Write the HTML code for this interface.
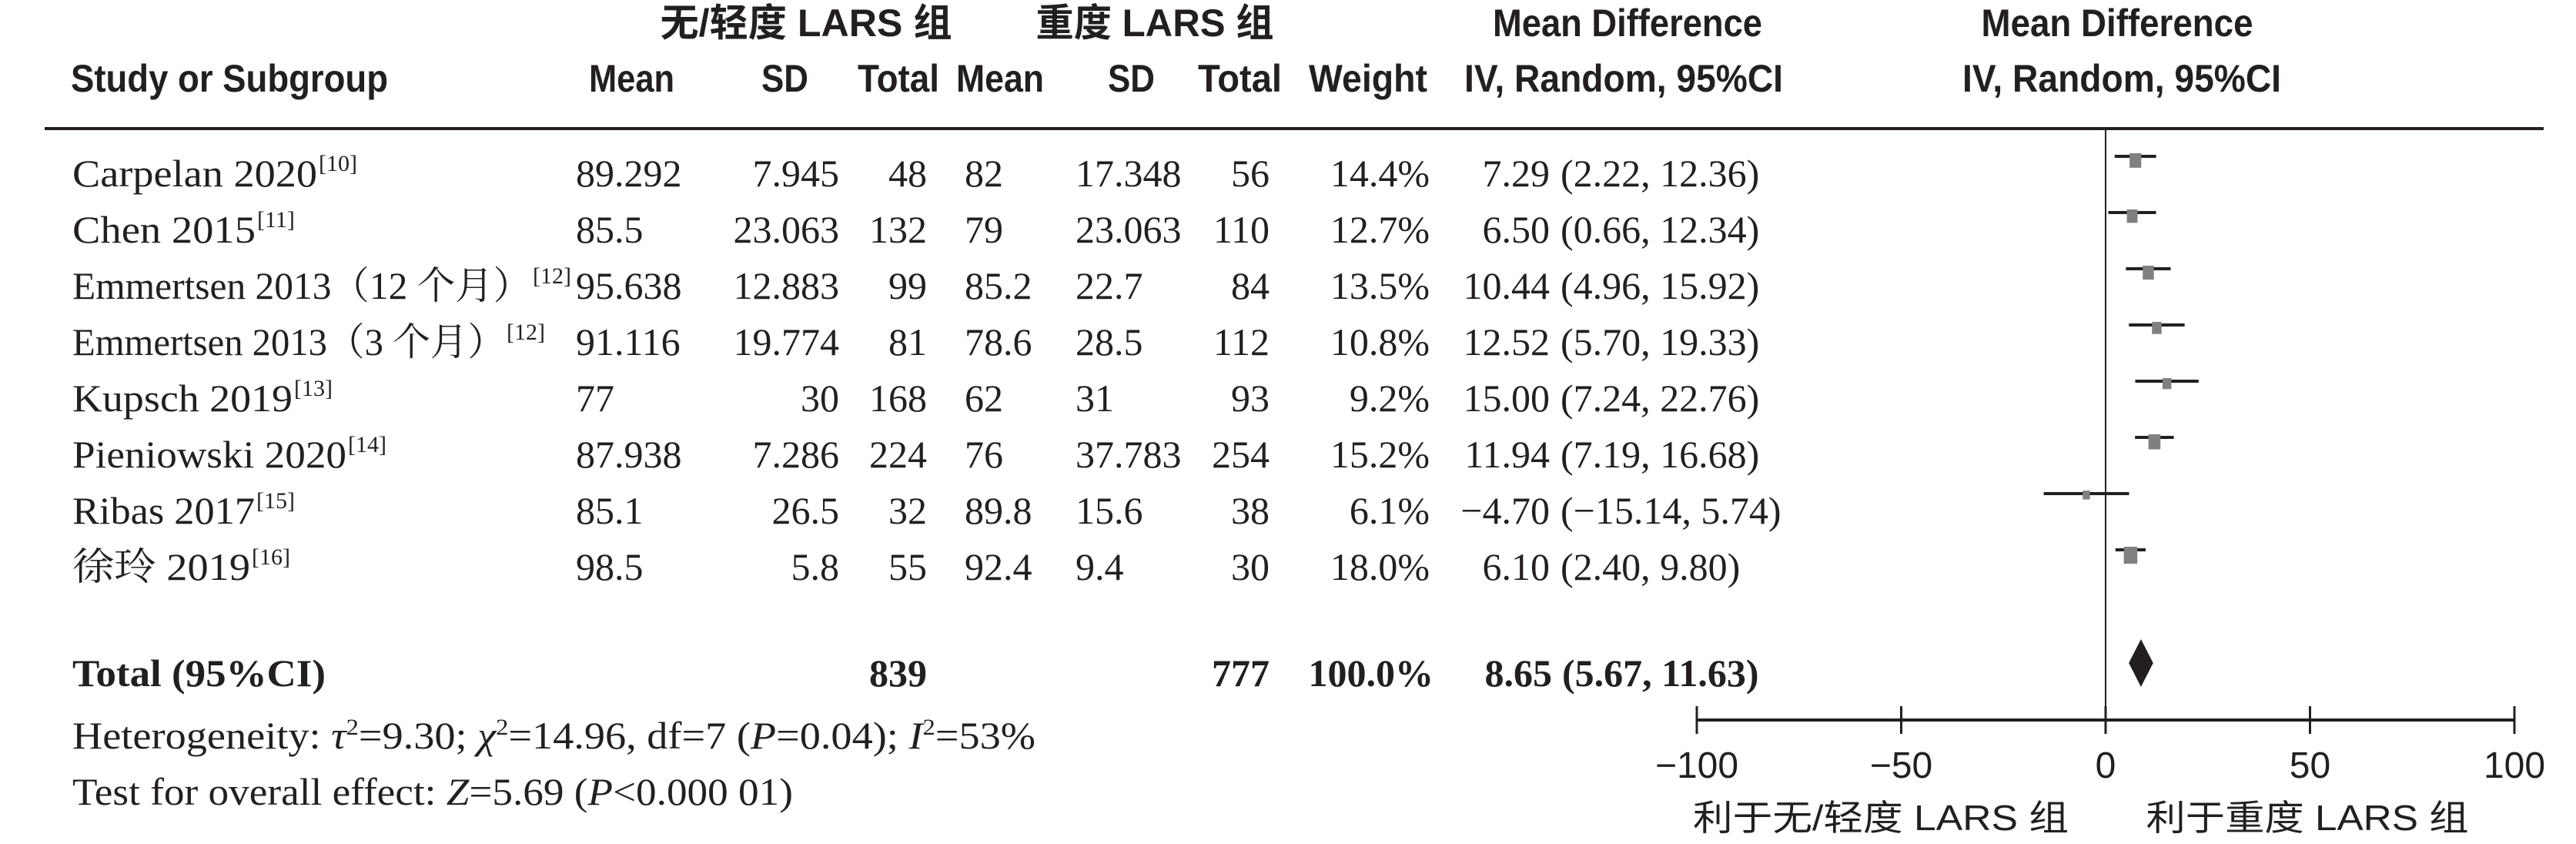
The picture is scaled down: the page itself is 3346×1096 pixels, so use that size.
<!DOCTYPE html>
<html><head><meta charset="utf-8"><style>
html,body{margin:0;padding:0;background:#fff;}
svg{display:block;}
.h{font-family:"Liberation Sans Narrow","Liberation Sans","Noto Sans CJK SC",sans-serif;font-weight:bold;font-size:50px;fill:#231f20;}
.t{font-family:"Liberation Serif","Noto Serif CJK SC",serif;font-size:50px;fill:#231f20;}
.sup{font-size:30px;}
.ax{font-family:"Liberation Sans Narrow","Liberation Sans",sans-serif;font-size:48px;fill:#231f20;}
.cj{font-family:"Liberation Sans","Noto Sans CJK SC",sans-serif;font-size:46px;fill:#231f20;}
</style></head><body>
<svg id="chart" width="3346" height="1096" viewBox="0 0 3346 1096" xmlns="http://www.w3.org/2000/svg">
<g>
<text class="h" x="1047" y="47" text-anchor="middle" textLength="379" lengthAdjust="spacingAndGlyphs">无/轻度 LARS 组</text>
<text class="h" x="1500" y="47" text-anchor="middle" textLength="309" lengthAdjust="spacingAndGlyphs">重度 LARS 组</text>
<text class="h" x="2114" y="47" text-anchor="middle" textLength="350" lengthAdjust="spacingAndGlyphs">Mean Difference</text>
<text class="h" x="2750" y="47" text-anchor="middle" textLength="353" lengthAdjust="spacingAndGlyphs">Mean Difference</text>
<text class="h" x="92" y="119" textLength="412" lengthAdjust="spacingAndGlyphs">Study or Subgroup</text>
<text class="h" x="765" y="119" textLength="111" lengthAdjust="spacingAndGlyphs">Mean</text>
<text class="h" x="989" y="119" textLength="61" lengthAdjust="spacingAndGlyphs">SD</text>
<text class="h" x="1114" y="119" textLength="106" lengthAdjust="spacingAndGlyphs">Total</text>
<text class="h" x="1242" y="119" textLength="114" lengthAdjust="spacingAndGlyphs">Mean</text>
<text class="h" x="1439" y="119" textLength="61" lengthAdjust="spacingAndGlyphs">SD</text>
<text class="h" x="1556" y="119" textLength="109" lengthAdjust="spacingAndGlyphs">Total</text>
<text class="h" x="1700" y="119" textLength="154" lengthAdjust="spacingAndGlyphs">Weight</text>
<text class="h" x="1902" y="119" textLength="414" lengthAdjust="spacingAndGlyphs">IV, Random, 95%CI</text>
<text class="h" x="2549" y="119" textLength="414" lengthAdjust="spacingAndGlyphs">IV, Random, 95%CI</text>
</g>
<rect x="58" y="165" width="3246" height="4" fill="#231f20"/>
<g id="rows"></g>
<g id="plot"></g>
<g>
<text class="t" x="94" y="891" font-weight="bold" textLength="329" lengthAdjust="spacingAndGlyphs">Total (95%CI)</text>
<text class="t" id="tot1" x="1204" y="891" font-weight="bold" text-anchor="end">839</text>
<text class="t" id="tot2" x="1649" y="891" font-weight="bold" text-anchor="end">777</text>
<text class="t" x="1862" y="891" font-weight="bold" text-anchor="end">100.0%</text>
<text class="t" x="2016" y="891" font-weight="bold" text-anchor="end">8.65</text>
<text class="t" x="2029" y="891" font-weight="bold">(5.67, 11.63)</text>
</g>
<text class="t" x="94" y="972" textLength="1251" lengthAdjust="spacingAndGlyphs">Heterogeneity: <tspan font-style="italic">τ</tspan><tspan class="sup" dy="-18">2</tspan><tspan dy="18">=9.30; </tspan><tspan font-style="italic">χ</tspan><tspan class="sup" dy="-18">2</tspan><tspan dy="18">=14.96, df=7 (</tspan><tspan font-style="italic">P</tspan>=0.04); <tspan font-style="italic">I</tspan><tspan class="sup" dy="-18">2</tspan><tspan dy="18">=53%</tspan></text>
<text class="t" x="94" y="1045" textLength="936" lengthAdjust="spacingAndGlyphs">Test for overall effect: <tspan font-style="italic">Z</tspan>=5.69 (<tspan font-style="italic">P</tspan>&lt;0.000 01)</text>
<text class="cj" x="2443" y="1078" text-anchor="middle" textLength="488" lengthAdjust="spacingAndGlyphs">利于无/轻度 LARS 组</text>
<text class="cj" x="2997" y="1078" text-anchor="middle" textLength="419" lengthAdjust="spacingAndGlyphs">利于重度 LARS 组</text>
</svg>
<script>
const studies = ["Carpelan 2020","Chen 2015","Emmertsen 2013（12 个月）","Emmertsen 2013（3 个月）","Kupsch 2019","Pieniowski 2020","Ribas 2017","徐玲 2019"];
const refs = ["[10]","[11]","[12]","[12]","[13]","[14]","[15]","[16]"];
const mean1 = ["89.292","85.5","95.638","91.116","77","87.938","85.1","98.5"];
const sd1 = ["7.945","23.063","12.883","19.774","30","7.286","26.5","5.8"];
const n1 = ["48","132","99","81","168","224","32","55"];
const mean2 = ["82","79","85.2","78.6","62","76","89.8","92.4"];
const sd2 = ["17.348","23.063","22.7","28.5","31","37.783","15.6","9.4"];
const n2 = ["56","110","84","112","93","254","38","30"];
const weights = [14.4,12.7,13.5,10.8,9.2,15.2,6.1,18.0];
const md = [7.29,6.50,10.44,12.52,15.00,11.94,-4.70,6.10];
const ciLow = [2.22,0.66,4.96,5.70,7.24,7.19,-15.14,2.40];
const ciHigh = [12.36,12.34,15.92,19.33,22.76,16.68,5.74,9.80];
const pooled = [8.65,5.67,11.63];
const ticks = [-100,-50,0,50,100];

const NS = "http://www.w3.org/2000/svg";
const X0 = 2735, PX = 5.31;
function xs(v){ return X0 + v*PX; }
function rowY(i){ return 242 + 73*i; }
function fmt(v){ return (v<0?"−":"") + Math.abs(v).toFixed(2); }
function mk(tag, attrs, parent){ const e=document.createElementNS(NS,tag); for(const k in attrs) e.setAttribute(k,attrs[k]); parent.appendChild(e); return e; }
const nameW = [318,238,596,562,286,356,237,231];
const rows = document.getElementById("rows");
const plot = document.getElementById("plot");
for(let i=0;i<studies.length;i++){
  const y = rowY(i);
  const nm = mk("text",{class:"t",x:94,y:y,textLength:nameW[i],lengthAdjust:"spacingAndGlyphs"},rows);
  nm.textContent = studies[i];
  
  
  const sp = mk("text",{class:"t sup",x:94+nameW[i]+2,y:y-20},rows);
  sp.textContent = refs[i];
  
  
  const cols = [[mean1[i],748,"start","mean1"],[sd1[i],1090,"end","sd1"],[n1[i],1204,"end","total1"],[mean2[i],1253,"start","mean2"],[sd2[i],1397,"start","sd2"],[n2[i],1649,"end","total2"],[weights[i].toFixed(1)+"%",1857,"end","weight"],[fmt(md[i]),2013,"end","md-value"],["("+fmt(ciLow[i])+", "+fmt(ciHigh[i])+")",2027,"start","ci-value"]];
  for(const c of cols){
    const t = mk("text",{class:"t",x:c[1],y:y,"text-anchor":c[2]},rows);
    t.textContent = c[0];
    
    
  }
  const ly = y - 39;
  const ln = mk("line",{x1:xs(ciLow[i]),x2:xs(ciHigh[i]),y1:ly,y2:ly,stroke:"#231f20","stroke-width":4},plot);
  
  
  const w = 5 + 0.7*weights[i], h = w*1.25;
  const sq = mk("rect",{x:xs(md[i])-w/2,y:ly-4,width:w,height:h,fill:"#808080"},plot);
  
  
}
document.getElementById("tot1").textContent = n1.reduce((a,b)=>a+ +b,0);
document.getElementById("tot2").textContent = n2.reduce((a,b)=>a+ +b,0);
const zl = mk("line",{x1:xs(0),x2:xs(0),y1:167,y2:937,stroke:"#231f20","stroke-width":2},plot);


const dy = 861;
const dm = mk("polygon",{points:`${xs(pooled[1])},${dy} ${xs(pooled[0])},${dy-31} ${xs(pooled[2])},${dy} ${xs(pooled[0])},${dy+31}`,fill:"#231f20"},plot);


const axl = mk("line",{x1:xs(ticks[0]),x2:xs(ticks[ticks.length-1]),y1:935,y2:935,stroke:"#231f20","stroke-width":4},plot);


for(const tv of ticks){
  const tk = mk("line",{x1:xs(tv),x2:xs(tv),y1:917,y2:953,stroke:"#231f20","stroke-width":3},plot);
  
  
  const tl = mk("text",{class:"ax",x:xs(tv),y:1010,"text-anchor":"middle"},plot);
  tl.textContent = (tv<0?"−":"") + Math.abs(tv);
  
  
}
</script>
</body></html>
